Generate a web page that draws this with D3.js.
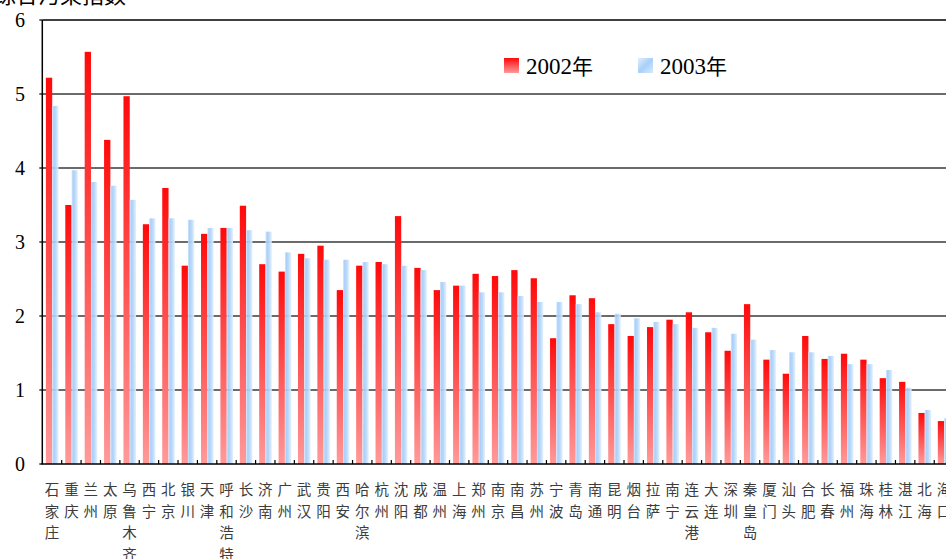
<!DOCTYPE html>
<html>
<head>
<meta charset="utf-8">
<script src="https://cdn.jsdelivr.net/npm/d3@7"></script>
<style>
html,body{margin:0;padding:0;background:#fff;overflow:hidden;}
svg{display:block;}
.serif{font-family:"Liberation Serif","Times New Roman","DejaVu Serif",serif;}
.cjk{font-family:"Noto Sans CJK SC","Noto Sans CJK JP",sans-serif;}
</style>
</head>
<body>
<svg id="chart" width="946" height="559"></svg>
<script>
const cities = ["石家庄","重庆","兰州","太原","乌鲁木齐","西宁","北京","银川","天津","呼和浩特","长沙","济南","广州","武汉","贵阳","西安","哈尔滨","杭州","沈阳","成都","温州","上海","郑州","南京","南昌","苏州","宁波","青岛","南通","昆明","烟台","拉萨","南宁","连云港","大连","深圳","秦皇岛","厦门","汕头","合肥","长春","福州","珠海","桂林","湛江","北海","海口"];
const v2002 = [5.22,3.50,5.57,4.38,4.97,3.24,3.73,2.68,3.11,3.19,3.49,2.70,2.60,2.84,2.95,2.35,2.68,2.73,3.35,2.65,2.35,2.41,2.57,2.54,2.62,2.51,1.70,2.28,2.24,1.89,1.73,1.85,1.95,2.05,1.78,1.53,2.16,1.41,1.22,1.73,1.42,1.49,1.41,1.16,1.11,0.69,0.58];
const v2003 = [4.84,3.97,3.81,3.76,3.57,3.32,3.32,3.30,3.19,3.19,3.16,3.14,2.86,2.78,2.76,2.76,2.73,2.70,2.68,2.62,2.46,2.41,2.32,2.32,2.27,2.19,2.19,2.16,2.05,2.03,1.97,1.92,1.89,1.84,1.84,1.76,1.68,1.54,1.51,1.51,1.46,1.35,1.35,1.27,1.03,0.73,0.62];
const seriesNames = ["2002年","2003年"];
const yTicks = [0,1,2,3,4,5,6];
const yTitle = "综合污染指数";

(function(){
const svg = d3.select("#chart");
const mLeft = 42.3, mTop = 20, mBottom = 464, bw = 19.39;
const mRight = mLeft + bw * cities.length;

const x = d3.scaleBand().domain(cities).range([mLeft, mRight]).padding(0);
const xs = d3.scaleBand().domain(seriesNames).range([3.6, 16.2]).padding(0);
const y = d3.scaleLinear().domain([0, 6]).range([mBottom, mTop]);

const defs = svg.append("defs");
const gRed = defs.append("linearGradient").attr("id","gRed").attr("x1",0).attr("y1",0).attr("x2",0).attr("y2",1);
gRed.append("stop").attr("offset","0%").attr("stop-color","#ff0a0a");
gRed.append("stop").attr("offset","100%").attr("stop-color","#ff9a9a");
const gBlue = defs.append("linearGradient").attr("id","gBlue").attr("x1",0).attr("y1",0).attr("x2",1).attr("y2",0);
gBlue.append("stop").attr("offset","0%").attr("stop-color","#d2e6fc");
gBlue.append("stop").attr("offset","25%").attr("stop-color","#a4ccf8");
gBlue.append("stop").attr("offset","55%").attr("stop-color","#b4d6fa");
gBlue.append("stop").attr("offset","100%").attr("stop-color","#e4f0fd");
const gBlueL = defs.append("linearGradient").attr("id","gBlueL").attr("x1",0).attr("y1",0).attr("x2",1).attr("y2",1);
gBlueL.append("stop").attr("offset","0%").attr("stop-color","#e2effd");
gBlueL.append("stop").attr("offset","50%").attr("stop-color","#a8cff9");
gBlueL.append("stop").attr("offset","100%").attr("stop-color","#d8eafc");

// gridlines
svg.append("g").selectAll("line").data(yTicks.filter(t => t > 0 && t < 6)).join("line")
  .attr("x1", mLeft).attr("x2", 946).attr("y1", d => y(d)).attr("y2", d => y(d))
  .attr("stroke", "#3a3a3a").attr("stroke-width", 1.4);
// top frame
svg.append("line").attr("x1", mLeft).attr("x2", 946).attr("y1", y(6)).attr("y2", y(6))
  .attr("stroke", "#000").attr("stroke-width", 1.5);

// bars
const groups = svg.append("g").selectAll("g").data(cities).join("g")
  .attr("transform", d => `translate(${x(d)},0)`);
groups.append("rect")
  .attr("x", xs("2002年")).attr("width", xs.bandwidth())
  .attr("y", (d,i) => y(v2002[i])).attr("height", (d,i) => mBottom - y(v2002[i]))
  .attr("fill", "url(#gRed)");
groups.append("rect")
  .attr("x", xs("2003年")).attr("width", xs.bandwidth())
  .attr("y", (d,i) => y(v2003[i])).attr("height", (d,i) => mBottom - y(v2003[i]))
  .attr("fill", "url(#gBlue)").attr("opacity", 0.92);

// axes
svg.append("line").attr("x1", mLeft).attr("x2", mLeft).attr("y1", y(6)).attr("y2", mBottom)
  .attr("stroke", "#000").attr("stroke-width", 1.5);
svg.append("line").attr("x1", mLeft - 1).attr("x2", 946).attr("y1", mBottom).attr("y2", mBottom)
  .attr("stroke", "#000").attr("stroke-width", 1.5);
svg.append("g").selectAll("line").data(cities.slice(1)).join("line")
  .attr("x1", d => x(d)).attr("x2", d => x(d)).attr("y1", mBottom).attr("y2", mBottom - 4)
  .attr("stroke", "#000").attr("stroke-width", 1.2);
svg.append("g").selectAll("line").data(yTicks).join("line")
  .attr("x1", mLeft - 3).attr("x2", mLeft).attr("y1", d => y(d)).attr("y2", d => y(d))
  .attr("stroke", "#000").attr("stroke-width", 1.2);

// y labels
svg.append("g").attr("class", "serif").selectAll("text").data(yTicks).join("text")
  .attr("x", 20).attr("y", d => y(d)).attr("dy", "0.35em")
  .attr("text-anchor", "middle")
  .attr("font-size", 20).attr("fill", "#000")
  .text(d => d);

// y title (cut at top)
svg.append("text").attr("class", "cjk").attr("x", -6).attr("y", 3)
  .attr("font-size", 22).attr("fill", "#000")
  .text(yTitle);

// category labels (vertical stacked)
const lab = svg.append("g").attr("class", "cjk").selectAll("g").data(cities).join("g")
  .attr("transform", d => `translate(${x(d) + x.bandwidth()/2},0)`);
lab.selectAll("text").data(d => Array.from(d)).join("text")
  .attr("x", 0).attr("y", (c,i) => 490 + i * 21.5).attr("dy", "0.36em")
  .attr("text-anchor", "middle")
  .attr("font-size", 14.5)
  .attr("fill", "#3c3c3c")
  .text(c => c);

// legend
const legend = svg.append("g");
const legX = [504, 638];
const legFill = ["url(#gRed)", "url(#gBlueL)"];
seriesNames.forEach((s, i) => {
  legend.append("rect").attr("x", legX[i]).attr("y", 58).attr("width", 15).attr("height", 15)
    .attr("fill", legFill[i]);
  const t = legend.append("text").attr("x", legX[i] + 22).attr("y", 66).attr("dy", "0.36em")
    .attr("font-size", 23).attr("fill", "#000");
  t.append("tspan").attr("class", "serif").text(s.slice(0, 4));
  t.append("tspan").attr("class", "cjk").attr("font-size", 21).text(s.slice(4));
});
})();
</script>
</body>
</html>
